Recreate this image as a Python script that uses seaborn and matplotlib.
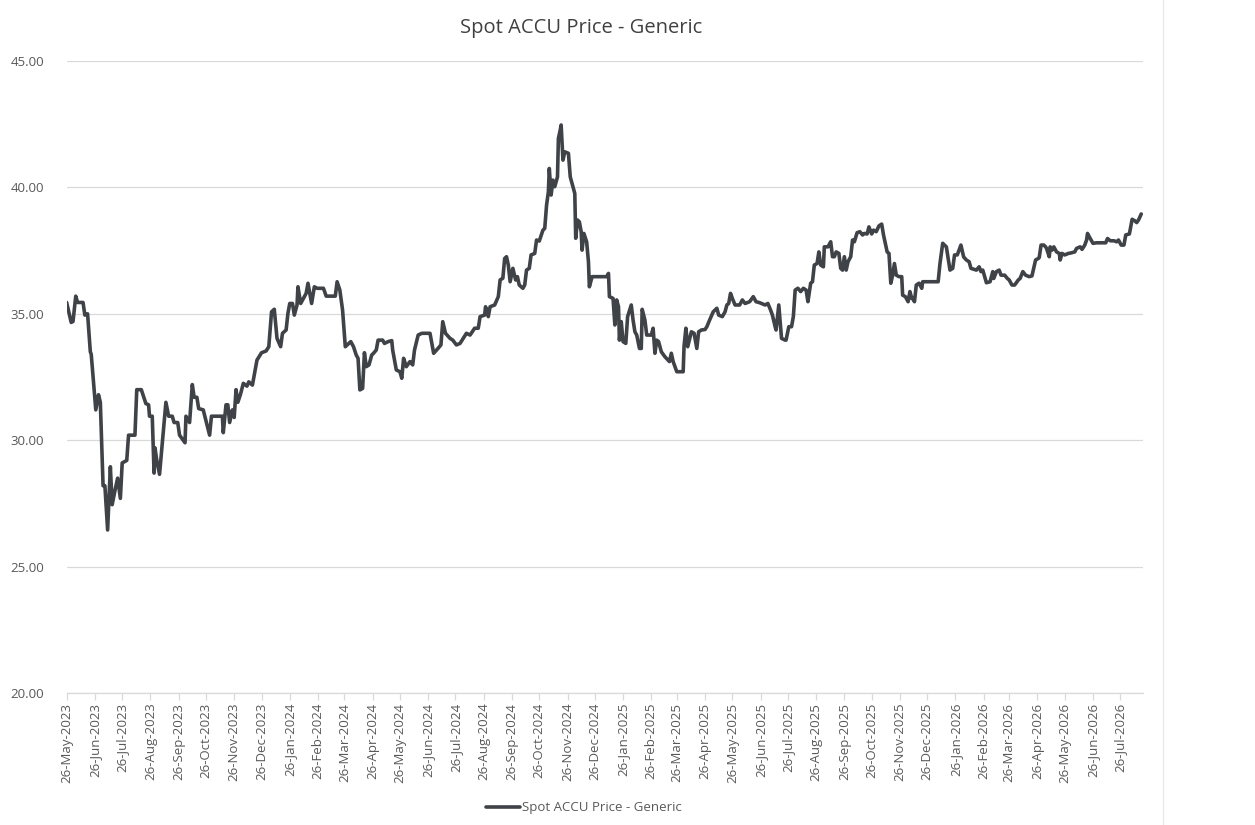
import pandas as pd
import matplotlib.pyplot as plt
import matplotlib.dates as mdates
from matplotlib.lines import Line2D
from matplotlib.ticker import FormatStrFormatter
import seaborn as sns

# series: days after 26-May-2023 and the spot price
start_date = "2023-05-26"
day_offsets = [
    0, 5, 7, 10, 12, 18, 20, 23, 26, 27, 32, 35, 37, 40, 42, 45, 48, 50, 53, 56,
    59, 61, 66, 68, 75, 77, 82, 87, 90, 91, 94, 96, 97, 99, 102, 109, 112, 116, 118, 122,
    124, 130, 131, 135, 138, 140, 143, 145, 150, 157, 159, 171, 172, 175, 177, 179, 182, 184, 186, 188,
    191, 194, 198, 200, 204, 209, 214, 219, 222, 225, 228, 231, 235, 237, 241, 243, 245, 248, 250, 253,
    254, 257, 261, 263, 265, 269, 272, 275, 282, 285, 295, 297, 300, 303, 306, 312, 315, 318, 320, 322,
    325, 327, 329, 332, 335, 337, 340, 342, 347, 349, 353, 357, 358, 362, 366, 368, 370, 373, 377, 380,
    382, 386, 390, 399,
    403, 408, 411, 413, 416, 421, 424, 428, 432, 439, 443, 448, 452, 454, 459, 460, 463, 465, 470, 474,
    476, 479, 481, 483, 485, 487, 490, 493, 495, 497, 501, 503, 505, 508, 510, 514, 516, 519, 523, 525,
    527, 529, 530, 532, 534, 536, 539, 540, 542, 543, 545, 547, 551, 553, 556, 558, 559, 561, 563, 565,
    566, 568, 571, 573, 574, 577, 593, 595, 596, 600, 602, 604, 606, 607,
    609, 611, 614, 616, 620, 622, 624, 626, 629, 631, 632, 635, 637, 642, 644, 646, 648, 650, 653, 657,
    662, 664, 666, 670, 677, 678, 680, 682, 686, 689, 692, 694, 697, 701, 703, 706, 710, 714, 716, 720,
    723, 725, 727, 729, 731, 734, 739, 742, 745, 750, 754, 757, 761, 767, 770, 773, 775, 778, 779, 782,
    785, 789, 790, 793, 796, 798, 800, 803,
    806, 809, 812, 814, 817, 819, 821, 824, 826, 828, 831, 832, 836, 839, 841, 843, 845, 848, 850, 852,
    854, 856, 858, 861, 863, 865, 868, 871, 874, 876, 879, 881, 884, 886, 889, 892, 895, 897, 899, 901,
    903, 905, 907, 909, 911, 914, 917, 918, 921, 924, 926, 928, 929, 931, 933, 936, 939, 940, 957, 959,
    962, 964, 966, 968, 970, 973, 975, 978, 980, 982, 985, 988, 991, 993, 999, 1002,
    1004, 1006, 1010, 1014, 1017, 1018, 1021, 1024, 1026, 1030, 1033, 1035, 1038, 1041, 1045, 1047, 1050, 1053, 1057, 1060,
    1064, 1067, 1068, 1070, 1073, 1075, 1076, 1079, 1080, 1082, 1084, 1087, 1090, 1091, 1093, 1096, 1100, 1103, 1107, 1109,
    1113, 1115, 1118, 1120, 1121, 1124, 1127, 1131, 1136, 1141, 1143, 1146, 1150, 1153, 1155, 1158, 1161, 1163, 1167, 1170,
    1173, 1175, 1177, 1180,
]
prices = [
    35.45, 34.66, 34.70, 35.70, 35.45, 35.45, 34.95, 35.00, 33.50, 33.40, 31.20, 31.80, 31.50, 28.20, 28.20, 26.45, 28.95, 27.45, 28.00, 28.50,
    27.70, 29.10, 29.20, 30.20, 30.20, 32.00, 32.00, 31.45, 31.40, 30.95, 30.95, 28.70, 29.70, 29.20, 28.65, 31.50, 30.95, 30.95, 30.70, 30.70,
    30.20, 29.90, 30.95, 30.70, 32.20, 31.70, 31.70, 31.25, 31.20, 30.20, 30.95, 30.95, 30.30, 31.40, 31.40, 30.70, 31.20, 30.90, 32.00, 31.50,
    31.83, 32.25, 32.14, 32.31, 32.18, 33.17, 33.46, 33.53, 33.70, 35.08, 35.18, 34.03, 33.70, 34.23, 34.36, 35.02, 35.41, 35.41, 34.95, 35.35,
    36.07, 35.41, 35.68, 35.81, 36.21, 35.41, 36.07, 36.01, 36.01, 35.70, 35.70, 36.27, 35.94, 35.15, 33.70, 33.90, 33.70, 33.37, 33.24, 31.99,
    32.05, 33.46, 32.91, 32.98, 33.37, 33.44, 33.57, 33.96, 33.96, 33.83, 33.90, 33.94, 33.57, 32.78, 32.71, 32.45, 33.24, 32.91, 33.11, 32.98,
    33.57, 34.16, 34.23, 34.23,
    33.44, 33.64, 33.77, 34.69, 34.23, 34.03, 33.96, 33.77, 33.83, 34.23, 34.16, 34.43, 34.43, 34.89, 34.95, 35.28, 34.89, 35.28, 35.35, 35.68,
    36.34, 36.41, 37.19, 37.26, 36.93, 36.27, 36.80, 36.34, 36.47, 36.14, 36.01, 36.14, 36.73, 36.80, 37.33, 37.39, 37.92, 37.88, 38.31, 38.38,
    39.30, 39.83, 40.75, 39.70, 40.29, 40.03, 40.42, 41.94, 42.27, 42.47, 41.08, 41.41, 41.35, 40.42, 40.03, 39.76, 37.99, 38.71, 38.64, 38.25,
    37.52, 38.18, 37.85, 37.06, 36.07, 36.47, 36.47, 36.60, 35.68, 35.61, 34.56, 35.55, 35.28, 33.96,
    34.69, 33.90, 33.83, 34.89, 35.35, 34.75, 34.29, 34.16, 33.63, 33.63, 35.18, 34.75, 34.16, 34.16, 34.43, 33.44, 33.96, 33.90, 33.50, 33.30,
    33.11, 33.44, 33.11, 32.71, 32.71, 33.73, 34.43, 33.70, 34.29, 34.23, 33.63, 34.29, 34.36, 34.38, 34.49, 34.75, 35.08, 35.22, 34.95, 34.89,
    35.08, 35.35, 35.41, 35.81, 35.61, 35.35, 35.35, 35.55, 35.41, 35.48, 35.68, 35.48, 35.44, 35.35, 35.41, 35.15, 34.95, 34.49, 34.36, 35.35,
    34.03, 33.96, 33.96, 34.49, 34.49, 34.89, 35.94, 36.01,
    35.88, 36.01, 35.94, 35.48, 36.21, 36.27, 36.93, 36.99, 37.45, 36.93, 36.86, 37.65, 37.65, 37.85, 37.26, 37.26, 37.45, 37.39, 36.80, 36.73,
    37.26, 36.73, 37.06, 37.26, 37.92, 37.85, 38.21, 38.25, 38.12, 38.18, 38.16, 38.44, 38.16, 38.31, 38.25, 38.48, 38.55, 38.12, 37.79, 37.45,
    37.39, 36.21, 36.53, 36.99, 36.53, 36.47, 36.47, 35.74, 35.68, 35.48, 35.88, 35.61, 35.61, 35.48, 36.14, 36.21, 36.01, 36.27, 36.27, 36.99,
    37.79, 37.72, 37.65, 37.19, 36.73, 36.80, 37.33, 37.33, 37.52, 37.72, 37.25, 37.13, 37.06, 36.80, 36.73, 36.86,
    36.67, 36.73, 36.23, 36.27, 36.67, 36.40, 36.67, 36.73, 36.53, 36.53, 36.40, 36.34, 36.14, 36.14, 36.34, 36.40, 36.67, 36.53, 36.47, 36.50,
    37.13, 37.19, 37.23, 37.72, 37.72, 37.65, 37.59, 37.26, 37.65, 37.52, 37.65, 37.45, 37.39, 37.13, 37.39, 37.33, 37.39, 37.41, 37.45, 37.59,
    37.65, 37.55, 37.72, 37.92, 38.18, 37.98, 37.79, 37.81, 37.81, 37.81, 37.98, 37.89, 37.89, 37.85, 37.92, 37.72, 37.72, 38.12, 38.16, 38.74,
    38.68, 38.61, 38.71, 38.95,
]
y_ticks = [20, 25, 30, 35, 40, 45]
series_name = "Spot ACCU Price - Generic"

df = pd.DataFrame({
    "date": pd.Timestamp(start_date) + pd.to_timedelta(day_offsets, unit="D"),
    "price": prices,
})

sns.set_theme(style="white")
plt.rcParams["font.family"] = ["Open Sans", "DejaVu Sans"]

line_color = "#3f4247"
text_color = "#595959"
grid_color = "#d9d9d9"

fig = plt.figure(figsize=(12.55, 8.25), dpi=100)
ax = fig.add_axes([0.0531, 0.16, 0.8577, 0.766])

sns.lineplot(data=df, x="date", y="price", ax=ax, color=line_color,
             linewidth=2.6, label=series_name, legend=False)

ax.set_ylim(20, 45)
ax.set_yticks(y_ticks)
ax.yaxis.set_major_formatter(FormatStrFormatter("%.2f"))
ax.set_xlim(pd.Timestamp(start_date), pd.Timestamp(start_date) + pd.Timedelta(days=1182))

month_ticks = pd.date_range(start_date, "2026-07-26", freq=pd.DateOffset(months=1))
ax.set_xticks(month_ticks)
ax.xaxis.set_major_formatter(mdates.DateFormatter("%d-%b-%Y"))
plt.setp(ax.get_xticklabels(), rotation=90)

ax.grid(axis="y", color=grid_color, linewidth=0.9)
ax.grid(axis="x", visible=False)
for side in ["top", "right", "left"]:
    ax.spines[side].set_visible(False)
ax.spines["bottom"].set_color(grid_color)
ax.spines["bottom"].set_linewidth(0.9)

ax.tick_params(axis="x", which="major", length=5, width=0.9, color=grid_color,
               labelsize=9.5, labelcolor=text_color, pad=2, bottom=True)
ax.tick_params(axis="y", length=0, labelsize=9.5, labelcolor=text_color, pad=16)
ax.set_xlabel("")
ax.set_ylabel("")

fig.text(0.463, 0.966, series_name, ha="center", va="center",
         fontsize=14.5, color="#404040")

handles = [Line2D([0], [0], color=line_color, linewidth=2.6)]
fig.legend(handles, [series_name], loc="center", bbox_to_anchor=(0.465, 0.021),
           frameon=False, fontsize=9.5, labelcolor=text_color,
           handlelength=2.6, handletextpad=0.1)

# faint chart-area border on the right
fig.add_artist(Line2D([1163 / 1255, 1163 / 1255], [0, 1], color="#e6e6e6",
                      linewidth=0.8, transform=fig.transFigure))

fig.savefig("out.png", dpi=100)
